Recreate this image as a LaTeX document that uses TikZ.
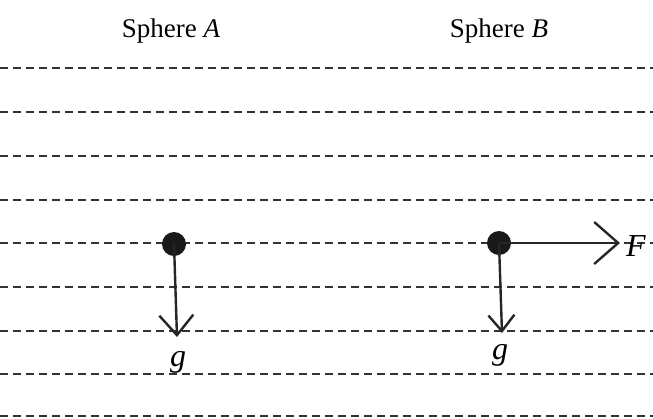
\documentclass[tikz,border=0pt]{standalone}
\usepackage{fontspec}
\setmainfont{Liberation Serif}
\usetikzlibrary{arrows.meta}
\usetikzlibrary{positioning}
\tikzset{
    ruled/.style={dashed,draw=black!80, line width=1.8pt, dash pattern=on 8pt off 5pt},
    sphere/.style={circle, fill=black!90, inner sep=0pt, minimum size=24pt},
    force/.style 2 args={draw=black!85, line width=2.4pt,
        -{Straight Barb[length=#1pt,width=#2pt,line width=2.4pt]}},
    title/.style={font=\fontsize{27}{30}\selectfont, anchor=base},
    hand/.style={font=\fontsize{32}{34}\selectfont\itshape, inner sep=0pt},
}

\begin{document}
\begin{tikzpicture}[x=1pt, y=-1pt]
	\useasboundingbox (0,0) rectangle (653,418);
	% ruled lines
	\foreach \y in {68,112,156,200,243,287,331,374,416}
		\draw[ruled] (0,\y)--(653,\y);
	% titles
	\node[title] (titleA) at (171,37) {Sphere \textit{A}};
	\node[title] (titleB) at (499,37) {Sphere \textit{B}};
	% sphere A
	\node[sphere] (sphA) at (174,244) {};
	\coordinate (gA) at (177,337);
	\draw[force={20}{34}] (sphA.center)--(gA);
	\node[hand] (labA) at (178,362) {g};
	% sphere B
	\node[sphere] (sphB) at (499,243) {};
	\coordinate (gB) at (502,333);
	\coordinate (fB) at (620,243);
	\draw[force={16}{26}] (sphB.center)--(gB);
	\draw[force={24}{42}] (sphB.center)--(fB);
	\node[hand] (labB) at (500,355) {g};
	\node[hand, anchor=west] (labF) at (626,246) {F};
\end{tikzpicture}
\end{document}
